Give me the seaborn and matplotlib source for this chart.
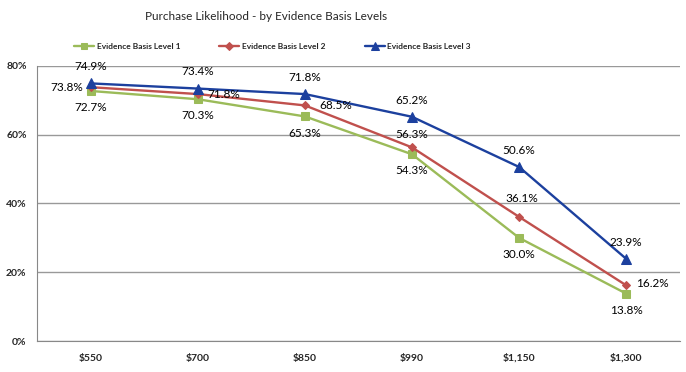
import numpy as np
import pandas as pd
import matplotlib
matplotlib.use('Agg')
import matplotlib.pyplot as plt
import seaborn as sns
from matplotlib.ticker import PercentFormatter, FixedLocator

# Data
prices = ['$550', '$700', '$850', '$990', '$1,150', '$1,300']
level1 = [72.7, 70.3, 65.3, 54.3, 30.0, 13.8]
level2 = [73.8, 71.8, 68.5, 56.3, 36.1, 16.2]
level3 = [74.9, 73.4, 71.8, 65.2, 50.6, 23.9]
series_names = ['Evidence Basis Level 1', 'Evidence Basis Level 2', 'Evidence Basis Level 3']

sns.set_style('white')
plt.rcParams['font.family'] = ['Lato', 'DejaVu Sans']

df = pd.DataFrame({'Price': prices * 3,
                   'pos': list(range(len(prices))) * 3,
                   'Value': level1 + level2 + level3,
                   'Series': [s for s in series_names for _ in prices]})

colors = ['#9BBB59', '#C0504D', '#1C409E']
markers = ['s', 'D', '^']
msizes = [6, 4.5, 7]

fig = plt.figure(figsize=(6.86, 3.72), dpi=100)
ax = fig.add_axes([0.054, 0.083, 0.937, 0.74])

for i, name in enumerate(series_names):
    sub = df[df['Series'] == name]
    sns.lineplot(data=sub, x='pos', y='Value', ax=ax, color=colors[i], marker=markers[i],
                 markersize=msizes[i], markeredgecolor=colors[i], linewidth=1.7, label=name)

# label offsets in points (dx, dy)
off1 = [(0, -12)] * 6
off2 = [(-17, 0), (19, 0), (22, 0), (0, 9), (2, 13), (19, 1)]
off3 = [(0, 12)] * 6
for vals, offs in [(level1, off1), (level2, off2), (level3, off3)]:
    for j, v in enumerate(vals):
        ax.annotate(f'{v:.1f}%', (j, v), xytext=offs[j], textcoords='offset points',
                    ha='center', va='center', fontsize=8.5, color='black')

ax.set_xlim(-0.5, len(prices) - 0.5)
ax.set_ylim(0, 80)
ax.yaxis.set_major_locator(FixedLocator([0, 20, 40, 60, 80]))
ax.yaxis.set_major_formatter(PercentFormatter(decimals=0))
ax.set_xticks(range(len(prices)))
ax.set_xticklabels(prices, fontweight='bold')
ax.set_xticks(np.arange(-0.5, len(prices), 1), minor=True)
ax.tick_params(axis='x', which='major', length=0, labelsize=7.5, pad=9)
ax.tick_params(axis='x', which='minor', length=4, color='#888888', direction='out')
ax.tick_params(axis='y', length=4, color='#888888', labelsize=7.5, direction='out')
for lbl in ax.get_yticklabels():
    lbl.set_fontweight('bold')
ax.grid(axis='y', color='#999999', linewidth=1)
for s in ['top', 'right']:
    ax.spines[s].set_visible(False)
for s in ['left', 'bottom']:
    ax.spines[s].set_color('#888888')
ax.set_xlabel('')
ax.set_ylabel('')

fig.text(0.388, 0.955, 'Purchase Likelihood - by Evidence Basis Levels', ha='center', va='center', fontsize=8.5)
handles, labels = ax.get_legend_handles_labels()
ax.legend_.remove()
fig.legend(handles, labels, loc='center', bbox_to_anchor=(0.397, 0.876), ncol=3, frameon=False,
           prop={'size': 6, 'weight': 'bold'}, handlelength=2.4, handletextpad=0.3,
           columnspacing=4.7, markerscale=0.8)

fig.savefig('out.png', dpi=100)
